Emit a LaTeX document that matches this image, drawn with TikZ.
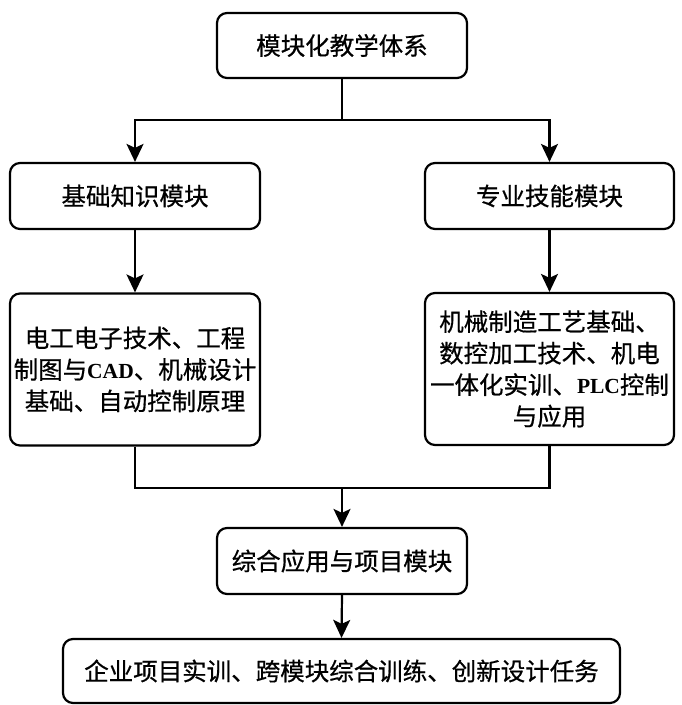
\documentclass[tikz,border=0pt]{standalone}
\usepackage{fontspec}
\setmainfont{Noto Sans CJK SC}[FakeBold=0.6]
\newfontfamily\latf{Liberation Serif}
\usetikzlibrary{arrows.meta}
\newcommand{\lt}[1]{{\latf\bfseries\fontsize{21.5pt}{31.5pt}\selectfont #1}}
\tikzset{
  box/.style={draw, line width=2.2pt, rounded corners=10pt, align=center, inner sep=0pt,
    font=\fontsize{24.5pt}{31.5pt}\selectfont},
  conn/.style={line width=2.2pt},
  arr/.style={line width=2.2pt, -{Stealth[length=18pt,width=17pt,inset=4pt]}}
}
\begin{document}
\begin{tikzpicture}[x=1pt,y=-1pt]
\useasboundingbox[fill=white] (0,0) rectangle (681,705);
\node[box, minimum width=250pt, minimum height=65pt] (top) at (342,45.5) {模块化教学体系};
\node[box, minimum width=250pt, minimum height=66pt] (left) at (135,196) {基础知识模块};
\node[box, minimum width=249pt, minimum height=66pt] (right) at (549.5,196) {专业技能模块};
\node[box, minimum width=250pt, minimum height=152pt] (lc) at (135,369.5) {电工电子技术、工程\\制图与\lt{CAD}、机械设计\\基础、自动控制原理};
\node[box, minimum width=249pt, minimum height=152pt] (rc) at (549.5,369) {机械制造工艺基础、\\数控加工技术、机电\\一体化实训、\lt{PLC}控制\\与应用};
\node[box, minimum width=250pt, minimum height=66pt] (mid) at (342,561) {综合应用与项目模块};
\node[box, minimum width=557pt, minimum height=64pt] (bot) at (341.5,671) {企业项目实训、跨模块综合训练、创新设计任务};
\coordinate (b1) at (342,120);
\coordinate (m1) at (342,488);
\draw[conn] (top.south) -- (b1);
\draw[arr] (b1) -| (left.north);
\draw[arr] (b1) -| (right.north);
\draw[arr] (left.south) -- (lc.north);
\draw[arr] (right.south) -- (rc.north);
\draw[conn] (lc.south) |- (m1);
\draw[conn] (rc.south) |- (m1);
\draw[arr] (m1) -- (mid.north);
\draw[arr] (mid.south) -- (bot.north);
\end{tikzpicture}
\end{document}
